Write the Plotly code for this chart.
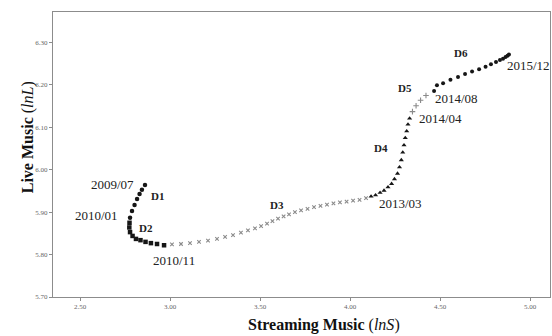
import plotly.graph_objects as go

# Trajectory of (ln S, ln L) over time, split into six phases D1..D6
d1_x = [2.861, 2.844, 2.831, 2.817, 2.803, 2.789, 2.778]
d1_y = [5.964, 5.953, 5.943, 5.931, 5.917, 5.903, 5.887]

d2_x = [2.775, 2.774, 2.778, 2.792, 2.811, 2.836, 2.864, 2.894, 2.928, 2.967]
d2_y = [5.875, 5.864, 5.853, 5.844, 5.837, 5.834, 5.830, 5.827, 5.825, 5.822]

d3_x = [3.011, 3.061, 3.111, 3.161, 3.211, 3.261, 3.306, 3.350, 3.394, 3.433,
        3.472, 3.506, 3.539, 3.569, 3.600, 3.631, 3.661, 3.694, 3.728, 3.764,
        3.800, 3.836, 3.872, 3.908, 3.944, 3.981, 4.017, 4.053, 4.089]
d3_y = [5.824, 5.825, 5.827, 5.830, 5.833, 5.837, 5.842, 5.846, 5.852, 5.857,
        5.862, 5.867, 5.873, 5.879, 5.885, 5.890, 5.895, 5.900, 5.904, 5.908,
        5.912, 5.915, 5.918, 5.921, 5.923, 5.925, 5.927, 5.929, 5.933]

d4_x = [4.117, 4.142, 4.167, 4.189, 4.211, 4.231, 4.247, 4.264, 4.275, 4.285,
        4.293, 4.300, 4.307, 4.315, 4.322, 4.331]
d4_y = [5.937, 5.940, 5.946, 5.951, 5.959, 5.967, 5.978, 5.991, 6.006, 6.023,
        6.041, 6.058, 6.075, 6.091, 6.107, 6.121]

d5_x = [4.347, 4.367, 4.392, 4.422]
d5_y = [6.137, 6.151, 6.164, 6.175]

d6_x = [4.467, 4.483, 4.517, 4.558, 4.600, 4.639, 4.678, 4.717, 4.753, 4.783,
        4.811, 4.833, 4.850, 4.864, 4.875, 4.883]
d6_y = [6.186, 6.199, 6.204, 6.212, 6.219, 6.226, 6.232, 6.237, 6.243, 6.249,
        6.254, 6.259, 6.262, 6.266, 6.269, 6.272]

# Date and phase labels with their positions on the data axes
date_labels = ["2009/07", "2010/01", "2010/11", "2013/03", "2014/04", "2014/08", "2015/12"]
date_x = [2.678, 2.594, 3.022, 4.278, 4.500, 4.589, 4.989]
date_y = [5.966, 5.893, 5.787, 5.921, 6.122, 6.169, 6.247]

phase_labels = ["D1", "D2", "D3", "D4", "D5", "D6"]
phase_x = [2.928, 2.867, 3.594, 4.172, 4.306, 4.617]
phase_y = [5.938, 5.863, 5.917, 6.051, 6.193, 6.275]

x_ticks = [2.5, 3.0, 3.5, 4.0, 4.5, 5.0]
y_ticks = [5.7, 5.8, 5.9, 6.0, 6.1, 6.2, 6.3]

SERIF = "Liberation Serif, Times New Roman, serif"
DARK = "#161616"
GREY = "#8a8a8a"

series = [
    (d1_x, d1_y, dict(symbol="circle", size=4.5, color=DARK)),
    (d2_x, d2_y, dict(symbol="square", size=4.5, color=DARK)),
    (d3_x, d3_y, dict(symbol="x-thin", size=3.5, color=GREY, line=dict(width=1.1, color=GREY))),
    (d4_x, d4_y, dict(symbol="triangle-up", size=4.5, color=DARK)),
    (d5_x, d5_y, dict(symbol="cross-thin", size=4, color=GREY, line=dict(width=1.1, color=GREY))),
    (d6_x, d6_y, dict(symbol="circle", size=4, color=DARK)),
]

fig = go.Figure()
for xs, ys, mk in series:
    fig.add_trace(go.Scatter(x=xs, y=ys, mode="markers", marker=mk,
                             showlegend=False, hoverinfo="skip"))

for t, x, y in zip(date_labels, date_x, date_y):
    fig.add_annotation(x=x, y=y, text=t, showarrow=False,
                       xanchor="center", yanchor="middle",
                       font=dict(family=SERIF, size=13, color="#222"))
for t, x, y in zip(phase_labels, phase_x, phase_y):
    fig.add_annotation(x=x, y=y, text="<b>" + t + "</b>", showarrow=False,
                       xanchor="center", yanchor="middle",
                       font=dict(family=SERIF, size=11, color="#222"))

# Axis titles
fig.add_annotation(xref="paper", yref="paper", x=0.545, y=-0.098,
                   xanchor="center", yanchor="middle",
                   text="<b>Streaming Music</b> (<i>lnS</i>)", showarrow=False,
                   font=dict(family=SERIF, size=16, color="#111"))
fig.add_annotation(xref="paper", yref="paper", x=-0.050, y=0.561, textangle=-90,
                   xanchor="center", yanchor="middle",
                   text="<b>Live Music</b> (<i>lnL</i>)", showarrow=False,
                   font=dict(family=SERIF, size=16, color="#111"))

axis_common = dict(showgrid=False, zeroline=False, showline=True, mirror=True,
                   linecolor="#8c8c8c", linewidth=1, ticks="outside", ticklen=3,
                   tickcolor="#8c8c8c", tickfont=dict(family=SERIF, size=7, color="#666"))

fig.update_xaxes(range=[2.35, 5.111], tickvals=x_ticks,
                 ticktext=[f"{v:.2f}" for v in x_ticks], **axis_common)
fig.update_yaxes(range=[5.70, 6.372], tickvals=y_ticks,
                 ticktext=[f"{v:.2f}" for v in y_ticks], **axis_common)

fig.update_layout(width=552, height=336, margin=dict(l=53, r=2, t=12, b=39),
                  paper_bgcolor="white", plot_bgcolor="white")

fig.write_html("out.html")
